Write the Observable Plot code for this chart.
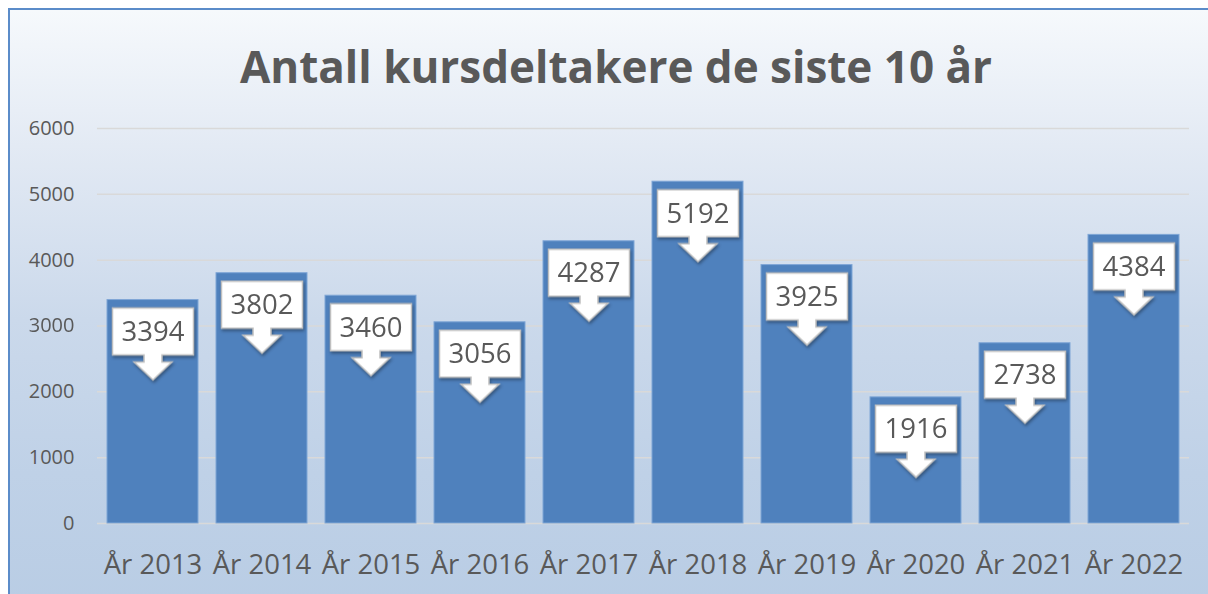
<!DOCTYPE html>
<html>
<head>
<meta charset="utf-8">
<script src="https://cdn.jsdelivr.net/npm/d3@7"></script>
<script src="https://cdn.jsdelivr.net/npm/@observablehq/plot@0.6"></script>
<style>
  html, body { margin: 0; padding: 0; background: #ffffff; }
  #wrap {
    position: absolute; left: 8px; top: 8px; width: 1230px; height: 620px;
    box-sizing: border-box;
    border-left: 2px solid #5b8cc9; border-top: 2px solid #5b8cc9;
    background: linear-gradient(to bottom, #f6f9fc 0%, #e3eaf4 22%, #cbd9eb 50%, #bfd1e7 75%, #b8cce4 100%);
    font-family: "Open Sans", sans-serif;
  }
  #title {
    position: absolute; left: 0; top: 0; width: 1212px; text-align: center;
    font: bold 44px "Open Sans", sans-serif; color: #595959; line-height: 44px;
    padding-top: 34px; height: 92px; box-sizing: border-box;
  }
  #chart { position: absolute; left: -10px; top: 92px; }
  #chart svg { background: transparent; overflow: visible; }
  #chart g[aria-label="dot"] { filter: drop-shadow(1px 2px 1.5px rgba(0,0,0,0.35)); }
</style>
</head>
<body>
<div id="wrap">
  <div id="title">Antall kursdeltakere de siste 10 år</div>
  <div id="chart"></div>
</div>
<script>
const years = ["År 2013", "År 2014", "År 2015", "År 2016", "År 2017", "År 2018", "År 2019", "År 2020", "År 2021", "År 2022"];
const participants = [3394, 3802, 3460, 3056, 4287, 5192, 3925, 1916, 2738, 4384];
const yTicks = [0, 1000, 2000, 3000, 4000, 5000, 6000];

const data = years.map((year, i) => ({year, value: participants[i]}));

// Callout shape (box with a downward arrow), drawn in pixels relative to the bar top
const callout = {
  draw(ctx) {
    const w = 40.5, top = 8, bot = 55, sw = 9, hw = 19, neck = 62, tip = 80;
    ctx.moveTo(-w, top);
    ctx.lineTo(w, top);
    ctx.lineTo(w, bot);
    ctx.lineTo(sw, bot);
    ctx.lineTo(sw, neck);
    ctx.lineTo(hw, neck);
    ctx.lineTo(0, tip);
    ctx.lineTo(-hw, neck);
    ctx.lineTo(-sw, neck);
    ctx.lineTo(-sw, bot);
    ctx.lineTo(-w, bot);
    ctx.closePath();
  }
};

const chart = Plot.plot({
  width: 1208,
  height: 492,
  marginLeft: 97,
  marginRight: 19,
  marginTop: 26,
  marginBottom: 71,
  style: {fontFamily: "'Open Sans', sans-serif", color: "#595959", background: "transparent"},
  x: {domain: years, paddingInner: 0.167, paddingOuter: 0.083, label: null},
  y: {domain: [0, 6000], ticks: yTicks, label: null},
  marks: [
    Plot.gridY(yTicks, {stroke: "#d9d9d9", strokeOpacity: 1, strokeWidth: 1.5}),
    Plot.barY(data, {x: "year", y: "value", fill: "#4f81bd", stroke: "#7fa6d6", strokeWidth: 1}),
    Plot.dot(data, {x: "year", y: "value", symbol: callout, r: 5, fill: "#ffffff", stroke: "#bfbfbf", strokeWidth: 1.5}),
    Plot.text(data, {x: "year", y: "value", text: d => String(d.value), dy: 32, fontSize: 27.5, fill: "#595959"}),
    Plot.axisY(yTicks, {tickSize: 0, tickPadding: 23, fontSize: 20, fill: "#595959", tickFormat: d => String(d)}),
    Plot.axisX({tickSize: 0, tickPadding: 31, fontSize: 27.5, fill: "#595959"})
  ]
});
document.getElementById("chart").appendChild(chart);
</script>
</body>
</html>
